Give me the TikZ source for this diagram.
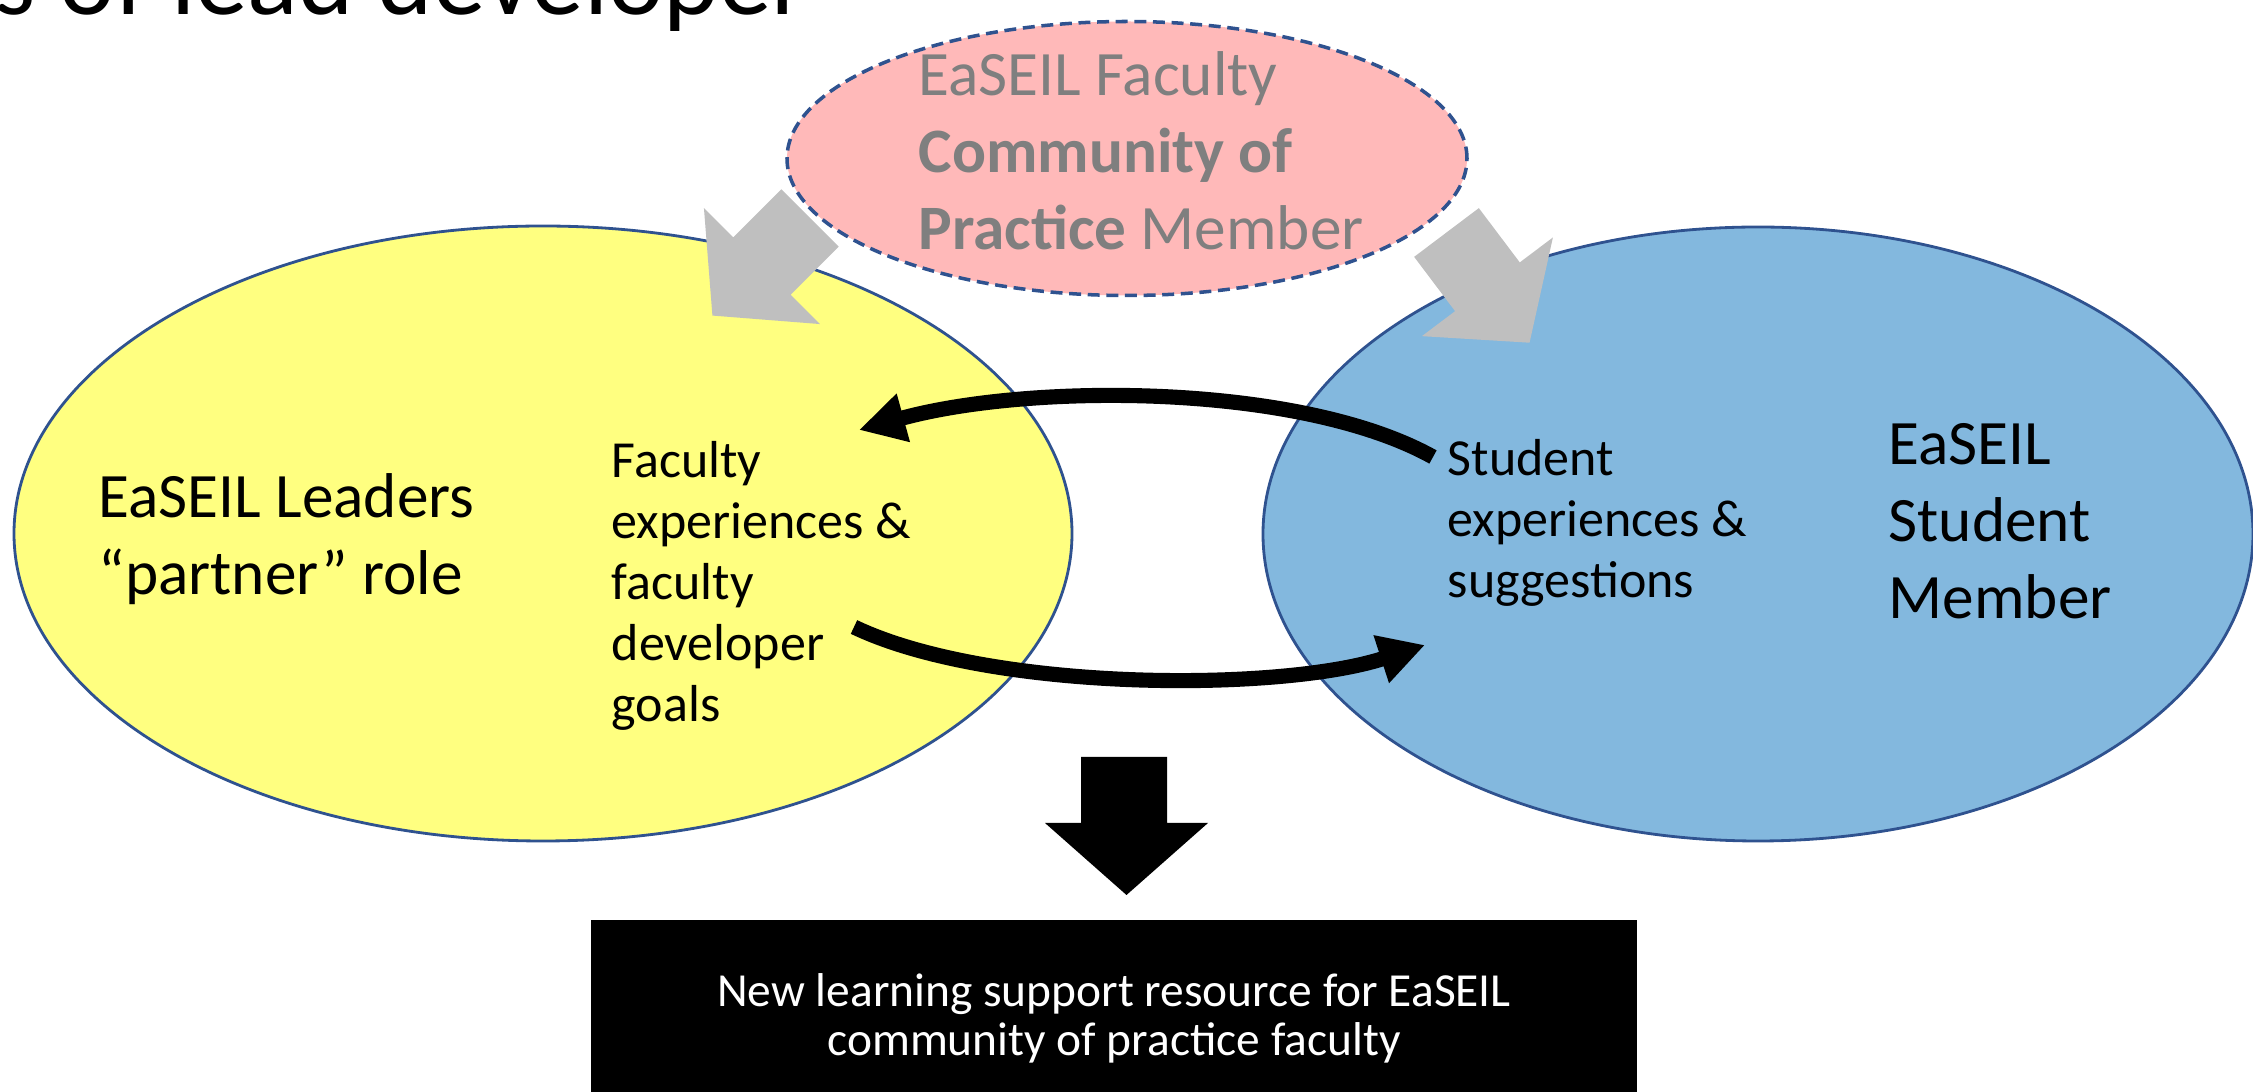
\documentclass[tikz,border=0pt]{standalone}
\usepackage{fontspec}
\setmainfont{Carlito}
\usetikzlibrary{arrows.meta,shapes.geometric,positioning}

\definecolor{leadyellow}{RGB}{255,255,128}
\definecolor{studentblue}{RGB}{131,184,222}
\definecolor{coppink}{RGB}{255,185,185}
\definecolor{edgeblue}{RGB}{47,82,143}
\definecolor{copgray}{RGB}{127,127,127}
\definecolor{arrowgray}{RGB}{191,191,191}

\begin{document}
\begin{tikzpicture}[
    %styles
    member/.style={ellipse,draw=edgeblue,line width=0.8pt,inner sep=0pt},
    big text/.style={font=\fontsize{18}{22}\selectfont,align=left,inner sep=0pt,anchor=base west},
    small text/.style={font=\fontsize{14.8}{17.4}\selectfont,align=left,inner sep=0pt,anchor=base west},
    feedback/.style={line width=4.3pt,-{Triangle[length=4.6mm,width=4.7mm]}},
    input arrow/.style={fill=arrowgray,draw=none},
    output arrow/.style={fill=black,draw=none},
  ]
  \useasboundingbox (0,0) rectangle (22.53,-10.92);
  \clip (0,0) rectangle (22.53,-10.92);

  % title, cut by the top edge
  \node[font=\fontsize{30}{36}\selectfont,anchor=base west,inner sep=0pt]
  (title) at (-0.06,-0.15) {s of lead developer};

  % the three members
  \node[member,fill=leadyellow,minimum width=10.58cm,minimum height=6.15cm]
  (leaders) at (5.43,-5.335) {};
  \node[member,fill=studentblue,minimum width=9.9cm,minimum height=6.14cm]
  (students) at (17.58,-5.34) {};
  \node[member,fill=coppink,dash pattern=on 3.4pt off 1.9pt,line width=1pt,
    minimum width=6.8cm,minimum height=2.74cm] (cop) at (11.27,-1.585) {};

  % grey arrows from the community of practice
  \foreach \tail/\dir in {{(8.10,-2.18)}/225,{(14.465,-2.325)}/-53}
  \fill[input arrow,shift={\tail},rotate=\dir]
  (0,0.405) -- (0.68,0.405) -- (0.68,0.82) -- (1.38,0)
  -- (0.68,-0.82) -- (0.68,-0.405) -- (0,-0.405) -- cycle;

  % texts (base = last line)
  \node[big text,text=copgray] (coptext) at (9.18,-2.50)
  {EaSEIL Faculty\\\textbf{Community of}\\\textbf{Practice} Member};
  \node[big text] (leadtext) at (0.98,-5.95) {EaSEIL Leaders\\“partner” role};
  \node[small text] (factext) at (6.11,-7.22)
  {Faculty\\experiences \&\\faculty\\developer\\goals};
  \node[small text] (stutext) at (14.47,-5.98)
  {Student\\experiences \&\\suggestions};
  \node[big text] (stumember) at (18.88,-6.19) {EaSEIL\\Student\\Member};

  % exchange between leaders and students
  \coordinate (stuout) at (14.33,-4.57);
  \coordinate (facin) at (8.59,-4.30);
  \coordinate (facout) at (8.54,-6.27);
  \coordinate (stuin) at (14.25,-6.45);
  \draw[feedback] (stuout) .. controls (13.0,-3.83) and (10.3,-3.83) .. (facin);
  \draw[feedback] (facout) .. controls (9.9,-6.92) and (12.8,-6.92) .. (stuin);

  % result
  \fill[output arrow] (10.81,-7.57) -- (11.67,-7.57) -- (11.67,-8.23) -- (12.08,-8.23)
  -- (11.265,-8.95) -- (10.45,-8.23) -- (10.81,-8.23) -- cycle;
  \node[fill=black,text=white,minimum width=10.46cm,minimum height=1.96cm,
    align=center,font=\fontsize{13.5}{13.9}\selectfont] (resource) at (11.14,-10.18)
  {New learning support resource for EaSEIL\\community of practice faculty};
\end{tikzpicture}
\end{document}
